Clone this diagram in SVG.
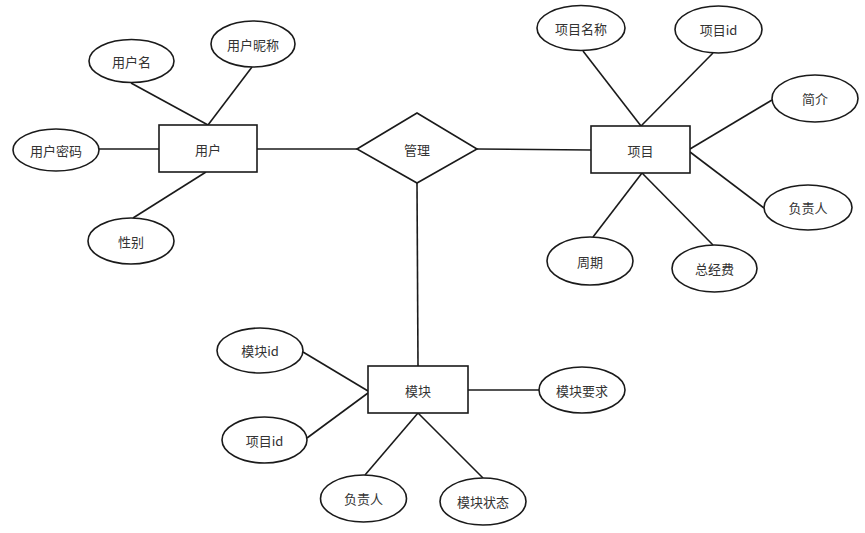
<svg xmlns="http://www.w3.org/2000/svg" width="865" height="533" viewBox="0 0 865 533">
<style>
.s{fill:#fff;stroke:#1a1a1a;stroke-width:1.6}
.l{stroke:#1a1a1a;stroke-width:1.6;fill:none}
text{font-family:"Noto Sans CJK SC","Liberation Sans",sans-serif;font-size:13px;fill:#333;text-anchor:middle;dominant-baseline:central}
</style>
<rect width="865" height="533" fill="#fff"/>
<g id="connectors">
<line class="l" x1="131" y1="83" x2="208" y2="125"/>
<line class="l" x1="252" y1="67" x2="208" y2="125"/>
<line class="l" x1="99" y1="149" x2="159" y2="149"/>
<line class="l" x1="206" y1="172" x2="133" y2="218"/>
<line class="l" x1="257" y1="149" x2="357" y2="149"/>
<line class="l" x1="477" y1="149" x2="591" y2="150"/>
<line class="l" x1="583" y1="51" x2="641" y2="126"/>
<line class="l" x1="713" y1="53" x2="641" y2="126"/>
<line class="l" x1="772" y1="100" x2="690" y2="149"/>
<line class="l" x1="764" y1="208" x2="690" y2="152"/>
<line class="l" x1="593" y1="237" x2="642" y2="173"/>
<line class="l" x1="713" y1="245" x2="642" y2="173"/>
<line class="l" x1="417" y1="183" x2="418" y2="366"/>
<line class="l" x1="303" y1="352" x2="368" y2="391"/>
<line class="l" x1="307" y1="438" x2="368" y2="393"/>
<line class="l" x1="365" y1="475" x2="418" y2="413"/>
<line class="l" x1="483" y1="478" x2="418" y2="413"/>
<line class="l" x1="468" y1="390" x2="539" y2="390"/>
</g>
<g id="user"><rect class="s" x="159" y="125" width="98" height="47"/><text x="208" y="149">用户</text></g>
<g id="username"><ellipse class="s" cx="131.5" cy="61" rx="42.5" ry="21.5"/><text x="131.5" y="61">用户名</text></g>
<g id="nickname"><ellipse class="s" cx="253" cy="44" rx="42" ry="23"/><text x="253" y="44">用户昵称</text></g>
<g id="password"><ellipse class="s" cx="56" cy="150" rx="43" ry="21"/><text x="56" y="150">用户密码</text></g>
<g id="gender"><ellipse class="s" cx="131" cy="241" rx="43" ry="23"/><text x="131" y="241">性别</text></g>
<g id="manage"><polygon class="s" points="357,149 417,113 477,149 417,183"/><text x="417" y="149">管理</text></g>
<g id="project"><rect class="s" x="591" y="126" width="99" height="47"/><text x="640.5" y="150">项目</text></g>
<g id="pname"><ellipse class="s" cx="581" cy="28" rx="44" ry="22.5"/><text x="581" y="28">项目名称</text></g>
<g id="pid"><ellipse class="s" cx="718.5" cy="29.5" rx="43.5" ry="23.5"/><text x="718.5" y="29.5">项目id</text></g>
<g id="intro"><ellipse class="s" cx="815" cy="98.5" rx="43" ry="23.5"/><text x="815" y="98.5">简介</text></g>
<g id="powner"><ellipse class="s" cx="808" cy="207.5" rx="44" ry="22.5"/><text x="808" y="207.5">负责人</text></g>
<g id="period"><ellipse class="s" cx="590" cy="261" rx="43" ry="24"/><text x="590" y="261">周期</text></g>
<g id="budget"><ellipse class="s" cx="714.5" cy="268.5" rx="42.5" ry="23.5"/><text x="714.5" y="268.5">总经费</text></g>
<g id="module"><rect class="s" x="368" y="366" width="100" height="47"/><text x="418" y="390">模块</text></g>
<g id="mid"><ellipse class="s" cx="260" cy="350.5" rx="43" ry="22.5"/><text x="260" y="350.5">模块id</text></g>
<g id="mpid"><ellipse class="s" cx="264.5" cy="440" rx="42.5" ry="23"/><text x="264.5" y="440">项目id</text></g>
<g id="mowner"><ellipse class="s" cx="363.5" cy="498.5" rx="43" ry="23.5"/><text x="363.5" y="498.5">负责人</text></g>
<g id="mstate"><ellipse class="s" cx="483" cy="501.5" rx="43" ry="23.5"/><text x="483" y="501.5">模块状态</text></g>
<g id="mreq"><ellipse class="s" cx="582" cy="390" rx="43" ry="23"/><text x="582" y="390">模块要求</text></g>
</svg>
